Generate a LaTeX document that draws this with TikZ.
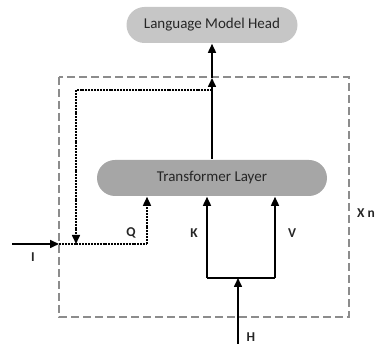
\documentclass[tikz,border=0pt]{standalone}
\usepackage{fontspec}
\setmainfont{Carlito}
\usetikzlibrary{arrows.meta}

\definecolor{headgray}{HTML}{C6C6C6}
\definecolor{layergray}{HTML}{A6A6A6}
\definecolor{boxgray}{HTML}{8C8C8C}

\tikzset{
  pill/.style={rectangle,rounded corners=18pt,minimum height=36pt,text=black!85,font=\fontsize{15}{17}\selectfont},
  lbl/.style={font=\fontsize{13.5}{15}\selectfont\bfseries,text=black!85},
  dots/.style={dash pattern=on 2pt off 0.9pt},
}

\begin{document}
\begin{tikzpicture}[x=1pt,y=-1pt,line width=1.6pt,>={Triangle[length=9pt,width=8pt]}]
	\useasboundingbox (0,0) rectangle (381,344);
	% blocks
	\node[pill,fill=headgray,minimum width=171pt] (head) at (212,25) {Language Model Head};
	\node[pill,fill=layergray,minimum width=230pt] (layer) at (212,178) {Transformer Layer};
	% repeated part
	\draw[boxgray,line width=2pt,dash pattern=on 8pt off 4pt] (59,77) rectangle (349,317);
	\node[lbl] (rep) at (366,213) {X n};
	% points on the paths
	\coordinate (top) at (212,78);
	\coordinate (split) at (212,90);
	\coordinate (back) at (76,244);
	\coordinate (iin) at (12,244);
	\coordinate (iend) at (59,244);
	\coordinate (qfoot) at (147,244);
	\coordinate (kfoot) at (207,278);
	\coordinate (vfoot) at (275,278);
	\coordinate (hin) at (238,344);
	\coordinate (hend) at (238,278);
	% output of the layer
	\draw[->] (layer.north) -- (top);
	\draw[->] (top) -- (head.south);
	\draw[dots,->] (split) -| (back);
	% inputs
	\draw[->] (iin) -- (iend);
	\draw[dots] (iend) -- (qfoot);
	\draw[dots,->] (qfoot) -- (qfoot |- layer.south);
	\draw[->] (kfoot) -- (kfoot |- layer.south);
	\draw[->] (vfoot) -- (vfoot |- layer.south);
	\draw (kfoot) -- (vfoot);
	\draw[->] (hin) -- (hend);
	% labels
	\node[lbl] (ilbl) at (33,257) {I};
	\node[lbl] (qlbl) at (131,233) {Q};
	\node[lbl] (klbl) at (194,233) {K};
	\node[lbl] (vlbl) at (292,233) {V};
	\node[lbl] (hlbl) at (251,337) {H};
\end{tikzpicture}
\end{document}
